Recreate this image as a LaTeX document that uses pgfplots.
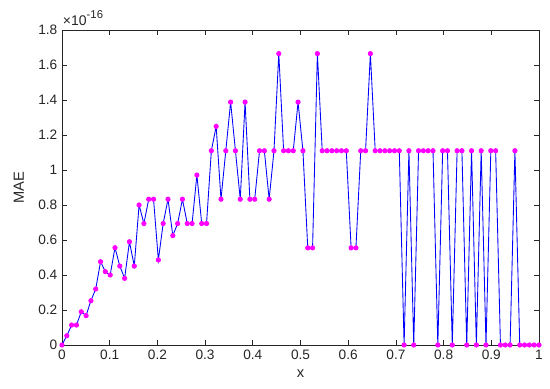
\documentclass[border=0pt]{standalone}
\usepackage{fontspec}
\setmainfont{Liberation Sans}
\usepackage{pgfplots}
\pgfplotsset{compat=1.18}
\definecolor{mblue}{RGB}{0,0,255}
\definecolor{mmag}{RGB}{255,0,255}
\definecolor{axgray}{RGB}{38,38,38}
\begin{document}
\begin{tikzpicture}
\begin{axis}[
  scale only axis,
  width=357.75pt, height=236.25pt,
  xmin=0, xmax=1, ymin=0, ymax=1.8,
  xtick={0,0.1,...,1.0001},
  xticklabels={0,0.1,0.2,0.3,0.4,0.5,0.6,0.7,0.8,0.9,1},
  ytick={0,0.2,0.4,0.6,0.8,1,1.2,1.4,1.6,1.8},
  yticklabels={0,0.2,0.4,0.6,0.8,1,1.2,1.4,1.6,1.8},
  tick align=inside,
  major tick length=3.5pt,
  axis line style={axgray, line width=0.5pt},
  every tick/.style={axgray, line width=0.5pt},
  tick label style={font=\fontsize{10.25}{12}\selectfont, text=axgray},
  label style={font=\fontsize{11}{13}\selectfont, text=axgray},
  xlabel={x}, ylabel={MAE},
  xlabel style={yshift=-1pt},
  ylabel style={yshift=4pt},
  /pgf/number format/assume math mode=true,
  clip=false,
]
\addplot[color=mblue, line width=0.65pt, mark=*, mark size=1.6pt,
  mark options={fill=mmag, draw=mmag}] coordinates {
(0,0) (0.0101,0.053) (0.0202,0.114) (0.0303,0.114) (0.0404,0.19)
(0.0505,0.168) (0.0606,0.253) (0.0707,0.32) (0.0808,0.476) (0.0909,0.419)
(0.1010,0.40) (0.1111,0.556) (0.1212,0.451) (0.1313,0.381) (0.1414,0.59)
(0.1515,0.451) (0.1616,0.80) (0.1717,0.694) (0.1818,0.833) (0.1919,0.833)
(0.2020,0.486) (0.2121,0.694) (0.2222,0.833) (0.2323,0.625) (0.2424,0.694)
(0.2525,0.833) (0.2626,0.694) (0.2727,0.694) (0.2828,0.971) (0.2929,0.694)
(0.3030,0.694) (0.3131,1.110) (0.3232,1.249) (0.3333,0.833) (0.3434,1.110)
(0.3535,1.388) (0.3636,1.110) (0.3737,0.833) (0.3838,1.388) (0.3939,0.833)
(0.4040,0.833) (0.4141,1.110) (0.4242,1.110) (0.4343,0.833) (0.4444,1.110)
(0.4545,1.665) (0.4646,1.110) (0.4747,1.110) (0.4848,1.110) (0.4949,1.388)
(0.5051,1.110) (0.5152,0.555) (0.5253,0.555) (0.5354,1.665) (0.5455,1.110)
(0.5556,1.110) (0.5657,1.110) (0.5758,1.110) (0.5859,1.110) (0.5960,1.110)
(0.6061,0.555) (0.6162,0.555) (0.6263,1.110) (0.6364,1.110) (0.6465,1.665)
(0.6566,1.110) (0.6667,1.110) (0.6768,1.110) (0.6869,1.110) (0.6970,1.110)
(0.7071,1.110) (0.7172,0) (0.7273,1.110) (0.7374,0) (0.7475,1.110)
(0.7576,1.110) (0.7677,1.110) (0.7778,1.110) (0.7879,0) (0.7980,1.110)
(0.8081,1.110) (0.8182,0) (0.8283,1.110) (0.8384,1.110) (0.8485,0)
(0.8586,1.110) (0.8687,0) (0.8788,1.110) (0.8889,0) (0.8990,1.110)
(0.9091,1.110) (0.9192,0) (0.9293,0) (0.9394,0) (0.9495,1.110)
(0.9596,0) (0.9697,0) (0.9798,0) (0.9899,0) (1,0)
};
\node[anchor=base west, inner sep=0pt, text=axgray, font=\fontsize{10.5}{12}\selectfont] at (rel axis cs:0,1) [yshift=3.5pt, xshift=0.5pt] {×10\raisebox{0.5em}{\fontsize{8.5}{10}\selectfont -16}};
\coordinate (bl) at (rel axis cs:0,0);
\coordinate (tr) at (rel axis cs:1,1);
\end{axis}
\pgfresetboundingbox
\useasboundingbox ([shift={(-46.5pt,-33pt)}]bl) rectangle ([shift={(8.25pt,22.5pt)}]tr);
\end{tikzpicture}
\end{document}
